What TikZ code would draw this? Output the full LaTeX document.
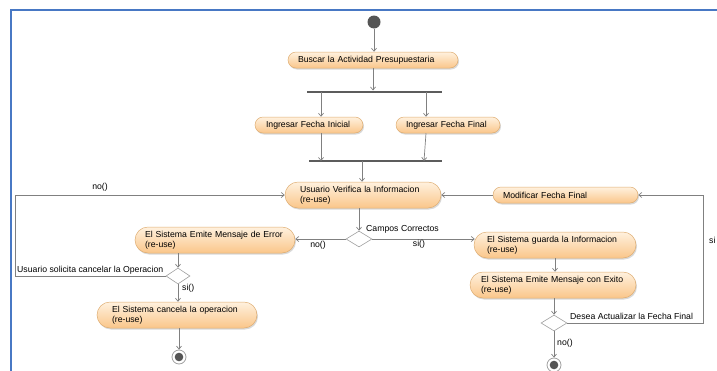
\documentclass[tikz,border=0pt]{standalone}
\usepackage{fontspec}
\setmainfont{Liberation Sans}
\usetikzlibrary{shapes.geometric,arrows.meta,shadows}

\definecolor{frameblue}{RGB}{72,120,196}
\definecolor{actborder}{RGB}{222,172,112}
\definecolor{acttop}{RGB}{255,241,222}
\definecolor{actbot}{RGB}{250,198,138}
\definecolor{flowgray}{RGB}{128,128,128}
\definecolor{bargray}{RGB}{92,92,92}
\definecolor{decgray}{RGB}{160,160,160}
\definecolor{dotgray}{RGB}{85,85,85}

\begin{document}
\begin{tikzpicture}[x=1pt,y=-1pt,
  every node/.style={font=\fontsize{8.7}{10.5}\selectfont},
  act/.style={draw=actborder, line width=0.5pt, top color=acttop, bottom color=actbot,
    align=left, inner ysep=0pt, minimum height=16pt, rounded corners=8pt,
    drop shadow={shadow xshift=1pt, shadow yshift=-1.5pt, opacity=0.25, fill=black!60}},
  act2/.style={act, minimum height=26pt, rounded corners=13pt},
  forkbar/.style={fill=bargray, draw=none, inner sep=0pt, minimum height=2.6pt},
  decision/.style={diamond, draw=decgray, fill=white, line width=0.6pt, inner sep=0pt,
    minimum width=26pt, minimum height=16pt},
  startdot/.style={circle, fill=dotgray, inner sep=0pt, minimum size=13pt},
  enddot/.style={circle, draw=decgray, fill=white, line width=0.8pt, inner sep=0pt, minimum size=14pt,
    path picture={\fill[dotgray] (path picture bounding box.center) circle (4.3pt);}},
  flow/.style={draw=flowgray, line width=0.7pt,
    -{Straight Barb[length=3pt,width=5pt,line width=0.7pt]}},
  lbl/.style={inner sep=0pt, text=black}
]
\useasboundingbox (0,0) rectangle (717,370);

% page frame (top and left rules only)
\draw[frameblue, line width=2pt] (11,371) -- (11,10) -- (718,10);

% ---- nodes ----
\node[startdot] (start) at (374,22) {};
\node[act, text width=150pt, inner xsep=10pt] (buscar) at (373,60) {Buscar la Actividad Presupuestaria};
\node[forkbar, minimum width=135pt] (fork) at (374.5,92) {};
\node[act, text width=86pt, inner xsep=11pt] (ini) at (309,125) {Ingresar Fecha Inicial};
\node[act, text width=84pt, inner xsep=10pt] (fin) at (448,125) {Ingresar Fecha Final};
\node[forkbar, minimum width=133pt] (join) at (375.5,161) {};
\node[act2, text width=126pt, inner xsep=15pt] (verif) at (363,195) {Usuario Verifica la Informacion\\(re-use)};
\node[act, text width=125pt, inner xsep=10pt] (modif) at (565.5,195) {Modificar Fecha Final};
\node[decision] (dcampos) at (359,239) {};
\node[act2, text width=140pt, inner xsep=10pt] (error) at (215,240) {El Sistema Emite Mensaje de Error\\(re-use)};
\node[decision, minimum width=24pt] (dcancel) at (178,276) {};
\node[act2, text width=130pt, inner xsep=15pt] (cancel) at (177,315) {El Sistema cancela la operacion\\(re-use)};
\node[enddot] (end1) at (179,357) {};
\node[act2, text width=136pt, inner xsep=13pt] (guarda) at (555,245) {El Sistema guarda la Informacion\\(re-use)};
\node[act2, text width=144pt, inner xsep=11pt] (exito) at (553,285) {El Sistema Emite Mensaje con Exito\\(re-use)};
\node[decision] (ddesea) at (554,323) {};
\node[enddot] (end2) at (554,365) {};

% ---- connector anchor points ----
\coordinate (fa) at (321,92);
\coordinate (fb) at (426,92);
\coordinate (ja) at (321,161);
\coordinate (jb) at (424,161);
\coordinate (jc) at (362,161);
\coordinate (vd) at (359,208);
\coordinate (loopL) at (15,195);
\coordinate (loopR) at (703,323);

% ---- connectors ----
\draw[flow] (start) -- (start |- buscar.north);
\draw[flow] (buscar.south) -- (buscar.south |- fork.north);
\draw[flow] (fa) -- (fa |- ini.north);
\draw[flow] (fb) -- (fb |- fin.north);
\draw[flow] (fa |- ini.south) -- (ja);
\draw[flow] (fb |- fin.south) -- (jb);
\draw[flow] (jc) -- (jc |- verif.north);
\draw[flow] (vd) -- (dcampos.north);
\draw[flow] (dcampos.west) -- (dcampos.west -| error.east);
\draw[flow] (dcampos.east) -- ([xshift=1pt]dcampos.east -| guarda.west);
\draw[flow] (error.south -| dcancel.north) -- (dcancel.north);
\draw[flow] (dcancel.south) -- (dcancel.south |- cancel.north);
\draw[flow] (cancel.south -| end1.north) -- (end1.north);
\draw[flow] (dcancel.west) -| (loopL) -- (verif.west);
\draw[flow] (guarda.south) -- (guarda.south |- exito.north);
\draw[flow] (ddesea.north |- exito.south) -- (ddesea.north);
\draw[flow] (ddesea.east) -- (loopR) |- (modif.east);
\draw[flow] (modif.west) -- (verif.east);
\draw[flow] (ddesea.south) -- (end2.north);

% ---- guard labels ----
\node[lbl] (l1) at (100,187) {no()};
\node[lbl, anchor=west] (l2) at (17,270) {Usuario solicita cancelar la Operacion};
\node[lbl, anchor=west] (l3) at (182,288) {si()};
\node[lbl, anchor=west] (l4) at (366,229) {Campos Correctos};
\node[lbl] (l5) at (318,245) {no()};
\node[lbl] (l6) at (419,244) {si()};
\node[lbl, anchor=west] (l7) at (570,316) {Desea Actualizar la Fecha Final};
\node[lbl, anchor=west] (l8) at (557,343) {no()};
\node[lbl, anchor=west] (l9) at (709,240) {si};
\end{tikzpicture}
\end{document}
